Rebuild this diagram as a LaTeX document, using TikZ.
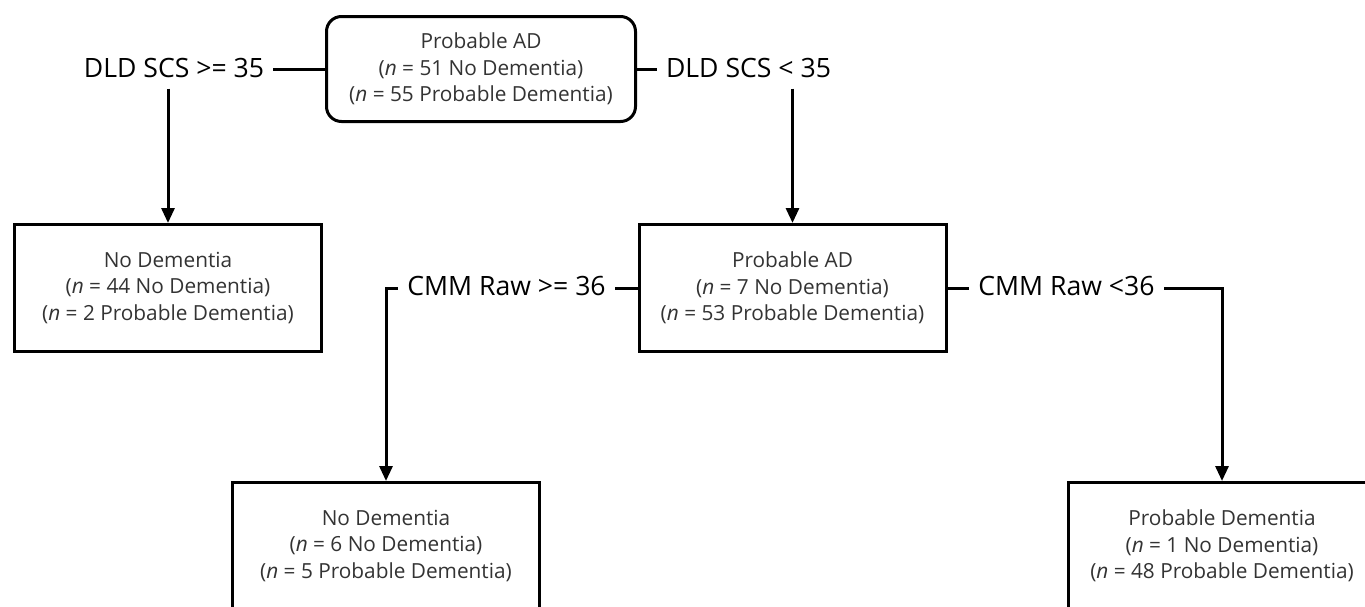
\documentclass[tikz,border=0pt]{standalone}
\usepackage{fontspec}
\setmainfont{Open Sans}
\usetikzlibrary{arrows.meta}
\tikzset{
	box/.style={draw, line width=1.5pt, minimum width=153.5pt, minimum height=63.5pt, inner sep=0pt, align=center, text=black!80, font=\fontsize{10.4}{13.3}\selectfont},
	cond/.style={inner xsep=4.5pt, inner ysep=5.5pt, font=\fontsize{13.3}{16}\selectfont},
	link/.style={line width=1.5pt},
	arr/.style={link, -{Triangle[length=7.5pt, width=6.5pt]}}
}
\begin{document}
\begin{tikzpicture}[x=0.5pt, y=-0.5pt]
		\clip (0,0) rectangle (1365,606);
		% boxes
		\node [box, rounded corners=7.5pt, minimum width=154.5pt, minimum height=52.5pt] (root) at (481,69) {Probable AD\\(\textit{n} = 51 No Dementia)\\(\textit{n} = 55 Probable Dementia)};
		\node [box] (nodem) at (168,288) {No Dementia\\(\textit{n} = 44 No Dementia)\\(\textit{n} = 2 Probable Dementia)};
		\node [box] (probad) at (792.5,288) {Probable AD\\(\textit{n} = 7 No Dementia)\\(\textit{n} = 53 Probable Dementia)};
		\node [box] (cmmnodem) at (386,546) {No Dementia\\(\textit{n} = 6 No Dementia)\\(\textit{n} = 5 Probable Dementia)};
		\node [box] (cmmprob) at (1222,546) {Probable Dementia\\(\textit{n} = 1 No Dementia)\\(\textit{n} = 48 Probable Dementia)};
		% split labels
		\node [cond, anchor=base] (dldhi) at (174,77) {DLD SCS >= 35};
		\node [cond, anchor=base] (dldlo) at (748.5,77) {DLD SCS < 35};
		\node [cond, anchor=base] (cmmhi) at (506.5,295) {CMM Raw >= 36};
		\node [cond, anchor=base] (cmmlo) at (1066.5,295) {CMM Raw <36};
		% connectors
		\draw [link] (root.west) -- (root.west -| dldhi.east);
		\draw [link] (root.east) -- (root.east -| dldlo.west);
		\draw [arr] (dldhi.south -| nodem.north) -- (nodem.north);
		\draw [arr] (dldlo.south -| probad.north) -- (probad.north);
		\draw [link] (probad.west) -- (probad.west -| cmmhi.east);
		\draw [arr] (probad.west -| cmmhi.west) -| (cmmnodem.north);
		\draw [link] (probad.east) -- (probad.east -| cmmlo.west);
		\draw [arr] (probad.east -| cmmlo.east) -| (cmmprob.north);
\end{tikzpicture}
\end{document}
